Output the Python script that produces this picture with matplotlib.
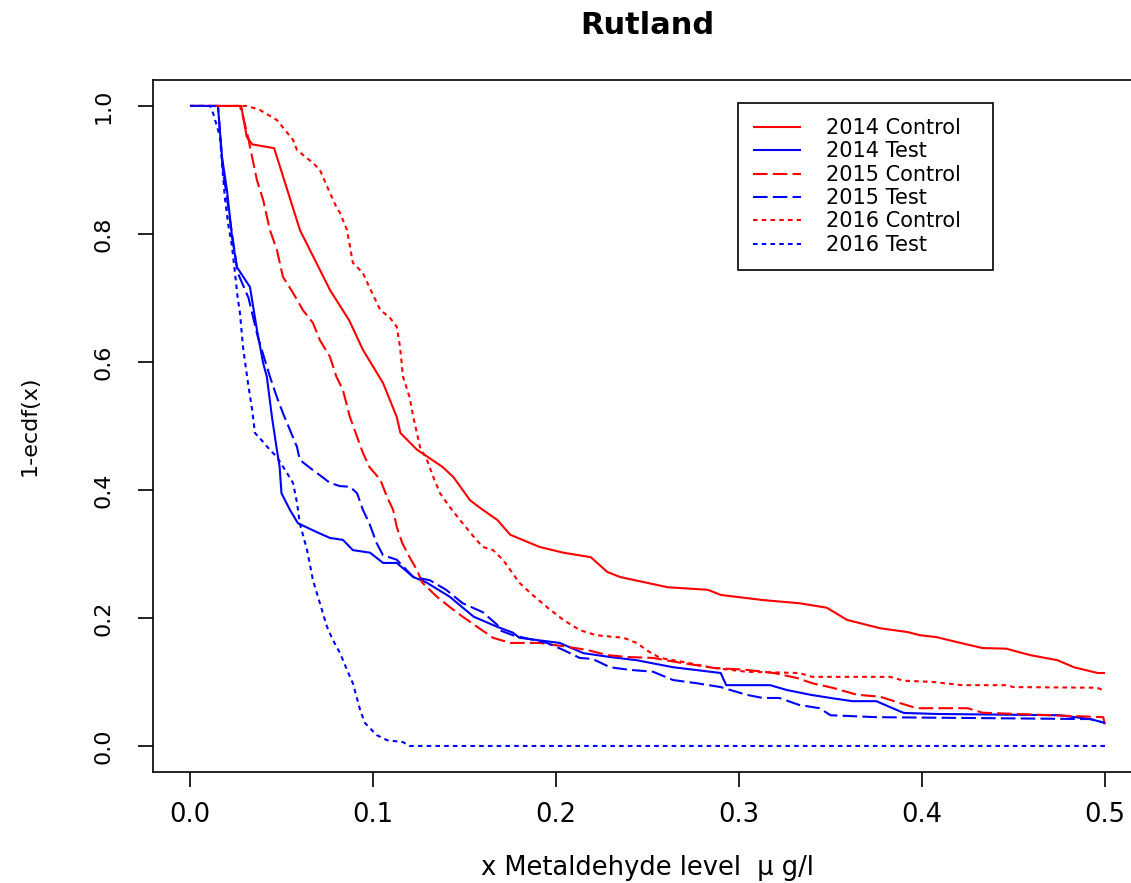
import matplotlib
matplotlib.use("Agg")
import matplotlib.pyplot as plt

# 1-ecdf curves (x in ug/l, y = 1-ecdf)
c14_x = [0, 0.028, 0.031, 0.034, 0.046, 0.0601, 0.0765, 0.087, 0.0945, 0.1055, 0.113, 0.115,
         0.124, 0.138, 0.144, 0.153, 0.158, 0.168, 0.175, 0.191, 0.204, 0.219, 0.228, 0.235,
         0.261, 0.283, 0.290, 0.313, 0.333, 0.348, 0.359, 0.377, 0.392, 0.399, 0.408, 0.421,
         0.433, 0.446, 0.459, 0.474, 0.483, 0.496, 0.5]
c14_y = [1, 1, 0.952, 0.94, 0.934, 0.806, 0.7125, 0.665, 0.619, 0.567, 0.514, 0.489,
         0.463, 0.436, 0.42, 0.384, 0.373, 0.353, 0.33, 0.311, 0.302, 0.295, 0.272, 0.264,
         0.248, 0.244, 0.236, 0.228, 0.223, 0.216, 0.197, 0.184, 0.178, 0.173, 0.170, 0.161,
         0.153, 0.152, 0.142, 0.134, 0.123, 0.114, 0.114]

t14_x = [0, 0.0153, 0.0175, 0.0202, 0.023, 0.0257, 0.0328, 0.0366, 0.040, 0.042, 0.0448,
         0.0475, 0.049, 0.050, 0.0546, 0.059, 0.0694, 0.0765, 0.0836, 0.089, 0.0984, 0.1055,
         0.113, 0.122, 0.1295, 0.142, 0.155, 0.168, 0.1765, 0.180, 0.202, 0.215, 0.2295,
         0.244, 0.264, 0.290, 0.293, 0.317, 0.326, 0.339, 0.350, 0.362, 0.375, 0.390, 0.408,
         0.475, 0.492, 0.5]
t14_y = [1, 1, 0.920, 0.869, 0.795, 0.748, 0.717, 0.65, 0.598, 0.577, 0.514,
         0.4625, 0.436, 0.395, 0.369, 0.348, 0.334, 0.325, 0.322, 0.306, 0.302, 0.286,
         0.286, 0.264, 0.255, 0.233, 0.202, 0.186, 0.177, 0.169, 0.161, 0.145, 0.139,
         0.134, 0.123, 0.114, 0.095, 0.095, 0.0875, 0.080, 0.075, 0.070, 0.070, 0.0516, 0.050,
         0.048, 0.042, 0.036]

c15_x = [0, 0.0273, 0.029, 0.0317, 0.0328, 0.0366, 0.040, 0.0437, 0.0475, 0.0508, 0.0563,
         0.0617, 0.0672, 0.071, 0.0765, 0.080, 0.0836, 0.0874, 0.0913, 0.0945, 0.098, 0.104,
         0.1077, 0.111, 0.113, 0.116, 0.120, 0.124, 0.127, 0.135, 0.142, 0.149, 0.157,
         0.1656, 0.175, 0.191, 0.206, 0.217, 0.228, 0.239, 0.253, 0.268, 0.286, 0.304,
         0.319, 0.332, 0.340, 0.351, 0.3645, 0.377, 0.388, 0.397, 0.425, 0.433, 0.499, 0.5]
c15_y = [1, 1, 0.983, 0.952, 0.936, 0.884, 0.853, 0.806, 0.775, 0.733, 0.708,
         0.681, 0.661, 0.634, 0.608, 0.577, 0.556, 0.514, 0.483, 0.458, 0.436, 0.416,
         0.389, 0.369, 0.342, 0.317, 0.295, 0.275, 0.255, 0.233, 0.217, 0.202, 0.186,
         0.169, 0.161, 0.161, 0.155, 0.150, 0.142, 0.139, 0.1375, 0.130, 0.122, 0.119,
         0.114, 0.106, 0.098, 0.091, 0.080, 0.077, 0.067, 0.059, 0.059, 0.052, 0.045, 0.033]

t15_x = [0, 0.0153, 0.018, 0.022, 0.026, 0.032, 0.037, 0.0437, 0.0475, 0.0508, 0.0546,
         0.0585, 0.060, 0.0672, 0.071, 0.0765, 0.082, 0.0874, 0.0913, 0.0945, 0.098, 0.102,
         0.1055, 0.113, 0.122, 0.131, 0.140, 0.149, 0.160, 0.168, 0.169, 0.1765, 0.195,
         0.204, 0.213, 0.220, 0.2295, 0.240, 0.253, 0.264, 0.277, 0.290, 0.304, 0.313,
         0.322, 0.333, 0.344, 0.350, 0.375, 0.492, 0.5]
t15_y = [1, 1, 0.90, 0.82, 0.74, 0.70, 0.64, 0.577, 0.545, 0.520, 0.494,
         0.467, 0.447, 0.431, 0.423, 0.411, 0.406, 0.405, 0.395, 0.369, 0.348, 0.317,
         0.298, 0.291, 0.264, 0.259, 0.244, 0.223, 0.209, 0.189, 0.181, 0.173, 0.161,
         0.150, 0.1375, 0.136, 0.123, 0.119, 0.116, 0.103, 0.098, 0.092, 0.080, 0.075,
         0.075, 0.064, 0.059, 0.048, 0.045, 0.042, 0.036]

c16_x = [0, 0.031, 0.038, 0.0475, 0.0563, 0.0585, 0.0672, 0.071, 0.0765, 0.080, 0.082,
         0.0858, 0.089, 0.0945, 0.098, 0.104, 0.109, 0.113, 0.1148, 0.1164, 0.120, 0.122,
         0.124, 0.1257, 0.1295, 0.133, 0.1366, 0.142, 0.149, 0.155, 0.160, 0.1656, 0.171,
         0.175, 0.180, 0.186, 0.195, 0.204, 0.213, 0.222, 0.237, 0.244, 0.251, 0.257,
         0.272, 0.286, 0.304, 0.333, 0.340, 0.3825, 0.390, 0.406, 0.422, 0.446, 0.450,
         0.4956, 0.5]
c16_y = [1, 1, 0.994, 0.978, 0.947, 0.931, 0.911, 0.9, 0.864, 0.842, 0.833,
         0.806, 0.755, 0.739, 0.717, 0.681, 0.670, 0.655, 0.623, 0.577, 0.545, 0.514,
         0.489, 0.467, 0.447, 0.420, 0.395, 0.373, 0.348, 0.327, 0.311, 0.306, 0.291,
         0.275, 0.255, 0.239, 0.217, 0.197, 0.181, 0.173, 0.169, 0.161, 0.147, 0.1375,
         0.130, 0.122, 0.116, 0.114, 0.108, 0.108, 0.102, 0.100, 0.095, 0.095, 0.092,
         0.091, 0.086]

t16_x = [0, 0.011, 0.0126, 0.0164, 0.0175, 0.019, 0.0208, 0.023, 0.0246, 0.026, 0.0273,
         0.029, 0.0317, 0.034, 0.0355, 0.040, 0.0437, 0.0475, 0.053, 0.0563, 0.0585, 0.060,
         0.064, 0.0672, 0.071, 0.0749, 0.078, 0.082, 0.0858, 0.089, 0.093, 0.0956, 0.102,
         0.1077, 0.1164, 0.120, 0.5]
t16_y = [1, 1, 0.989, 0.952, 0.911, 0.858, 0.817, 0.780, 0.739, 0.702, 0.677,
         0.623, 0.567, 0.525, 0.489, 0.475, 0.4625, 0.4516, 0.4266, 0.411, 0.380, 0.348,
         0.306, 0.259, 0.223, 0.186, 0.166, 0.145, 0.119, 0.098, 0.056, 0.036, 0.017,
         0.009, 0.006, 0.0, 0.0]

labels = ["2014 Control", "2014 Test", "2015 Control", "2015 Test", "2016 Control", "2016 Test"]
x_ticks = [0.0, 0.1, 0.2, 0.3, 0.4, 0.5]
y_ticks = [0.0, 0.2, 0.4, 0.6, 0.8, 1.0]

plt.rcParams['font.family'] = ['DejaVu Sans']

fig = plt.figure(figsize=(11.31, 8.83), dpi=100)
ax = fig.add_axes([0.1356, 0.1262, 0.8738, 0.7828])

solid = (0, ())
dashed = (0, (7, 2.5))
dotted = (0, (2.2, 2))
series = [(c14_x, c14_y, 'red', solid), (t14_x, t14_y, 'blue', solid),
          (c15_x, c15_y, 'red', dashed), (t15_x, t15_y, 'blue', dashed),
          (c16_x, c16_y, 'red', dotted), (t16_x, t16_y, 'blue', dotted)]
for (xs, ys, col, ls), lab in zip(series, labels):
    ax.plot(xs, ys, color=col, linestyle=ls, linewidth=1.5, label=lab)

ax.set_xlim(-0.02, 0.52)
ax.set_ylim(-0.04, 1.04)
ax.set_xticks(x_ticks)
ax.set_xticklabels([f"{v:.1f}" for v in x_ticks], fontsize=18.5)
ax.set_yticks(y_ticks)
ax.set_yticklabels([f"{v:.1f}" for v in y_ticks], fontsize=16, rotation=90, va='center')
ax.tick_params(axis='x', length=11, width=1.2, pad=11)
ax.tick_params(axis='y', length=11, width=1.2, pad=18)
for sp in ax.spines.values():
    sp.set_linewidth(1.2)

ax.set_xlabel("x Metaldehyde level  \u03bc g/l", fontsize=18.5)
ax.xaxis.set_label_coords(0.5, -0.139)
ax.xaxis.label.set_va('center')
ax.set_ylabel("1-ecdf(x)", fontsize=16)
ax.yaxis.set_label_coords(-0.125, 0.501)
ax.yaxis.label.set_va('center')

fig.text(647 / 1131, 1 - 25 / 883, "Rutland", fontsize=22, fontweight='bold',
         ha='center', va='center')

leg = ax.legend(loc='upper left', bbox_to_anchor=(0.5916, 0.728, 0.258, 0.239),
                mode='expand', fontsize=15, frameon=True, fancybox=False,
                edgecolor='black', framealpha=1, borderpad=0.72, labelspacing=0.16,
                handlelength=2.3, handletextpad=1.2, borderaxespad=0)
leg.get_frame().set_linewidth(1.2)

fig.savefig("out.png", dpi=100)
